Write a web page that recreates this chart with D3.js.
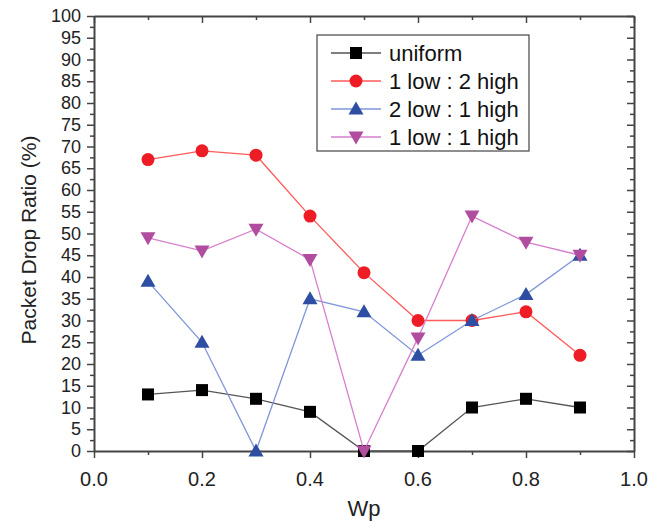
<!DOCTYPE html>
<html>
<head>
<meta charset="utf-8">
<script src="https://cdn.jsdelivr.net/npm/d3@7"></script>
<style>
  body { margin: 0; background: #fff; }
  text { font-family: "Liberation Sans", Arial, sans-serif; }
</style>
</head>
<body>
<div id="chart"></div>
<script>
// data
var wp = [0.1, 0.2, 0.3, 0.4, 0.5, 0.6, 0.7, 0.8, 0.9];
var uniform = [13, 14, 12, 9, 0, 0, 10, 12, 10];
var low1high2 = [67, 69, 68, 54, 41, 30, 30, 32, 22];
var low2high1 = [39, 25, 0, 35, 32, 22, 30, 36, 45];
var low1high1 = [49, 46, 51, 44, 0, 26, 54, 48, 45];
var seriesNames = ["uniform", "1 low : 2 high", "2 low : 1 high", "1 low : 1 high"];
var yTicks = d3.range(0, 101, 5);
var xTicks = [0.0, 0.2, 0.4, 0.6, 0.8, 1.0];

var W = 661, H = 522;
var mLeft = 94, mRight = 634, mTop = 16, mBottom = 451;

var svg = d3.select("#chart").append("svg")
    .attr("width", W)
    .attr("height", H);

var x = d3.scaleLinear().domain([0, 1]).range([mLeft, mRight]);
var y = d3.scaleLinear().domain([0, 100]).range([mBottom, mTop]);

var axisColor = "#444";

// bottom axis (outward ticks)
var gx = svg.append("g").attr("transform", "translate(0," + mBottom + ")");
gx.call(d3.axisBottom(x).tickValues(d3.range(0, 1.01, 0.1)).tickSize(0).tickFormat(""));
gx.selectAll(".tick").append("line")
    .attr("y2", function(d, i) { return i % 2 == 0 ? 7 : 4; })
    .attr("stroke", axisColor).attr("stroke-width", 1.5);
gx.select(".domain").attr("stroke", axisColor).attr("stroke-width", 2);
xTicks.forEach(function(t) {
  svg.append("text")
    .attr("x", x(t)).attr("y", mBottom + 35)
    .attr("text-anchor", "middle")
    .attr("font-size", "20px")
    .attr("fill", "#222")
    .text(t.toFixed(1));
});

// left axis
var gy = svg.append("g").attr("transform", "translate(" + mLeft + ",0)");
gy.call(d3.axisLeft(y).tickValues(d3.range(0, 101, 2.5)).tickSize(0).tickFormat(""));
gy.selectAll(".tick").append("line")
    .attr("x2", function(d, i) { return i % 2 == 0 ? -7 : -4; })
    .attr("stroke", axisColor).attr("stroke-width", 1.5);
gy.select(".domain").attr("stroke", axisColor).attr("stroke-width", 2);
yTicks.forEach(function(t) {
  svg.append("text")
    .attr("x", mLeft - 13).attr("y", y(t) + 6)
    .attr("text-anchor", "end")
    .attr("font-size", "18px")
    .attr("fill", "#222")
    .text(t);
});

// top and right mirror axes (inward ticks)
var gt = svg.append("g").attr("transform", "translate(0," + mTop + ")");
gt.call(d3.axisTop(x).tickValues(d3.range(0, 1.01, 0.1)).tickSize(0).tickFormat(""));
gt.selectAll(".tick").append("line")
    .attr("y2", function(d, i) { return i % 2 == 0 ? 7 : 4; })
    .attr("stroke", axisColor).attr("stroke-width", 1.5);
gt.select(".domain").attr("stroke", axisColor).attr("stroke-width", 2);

var gr = svg.append("g").attr("transform", "translate(" + mRight + ",0)");
gr.call(d3.axisRight(y).tickValues(d3.range(0, 101, 2.5)).tickSize(0).tickFormat(""));
gr.selectAll(".tick").append("line")
    .attr("x2", function(d, i) { return i % 2 == 0 ? -7 : -4; })
    .attr("stroke", axisColor).attr("stroke-width", 1.5);
gr.select(".domain").attr("stroke", axisColor).attr("stroke-width", 2);

// axis titles
svg.append("text")
    .attr("x", x(0.5)).attr("y", 516)
    .attr("text-anchor", "middle")
    .attr("font-size", "22px")
    .attr("fill", "#222")
    .text("Wp");

svg.append("text")
    .attr("transform", "translate(36,240) rotate(-90)")
    .attr("text-anchor", "middle")
    .attr("font-size", "21px")
    .attr("fill", "#222")
    .text("Packet Drop Ratio (%)");

// series
var series = [
  {name: seriesNames[0], values: uniform, line: "#555", fill: "#000", shape: "square"},
  {name: seriesNames[1], values: low1high2, line: "#ff5a5a", fill: "#ee1c24", shape: "circle"},
  {name: seriesNames[2], values: low2high1, line: "#7f97d8", fill: "#2d4ea2", shape: "up"},
  {name: seriesNames[3], values: low1high1, line: "#d77fcc", fill: "#b04d9f", shape: "down"}
];

function marker(g, shape, cx, cy, fill) {
  if (shape == "square") {
    g.append("rect").attr("x", cx - 6).attr("y", cy - 6)
      .attr("width", 12).attr("height", 12).attr("fill", fill);
  } else if (shape == "circle") {
    g.append("circle").attr("cx", cx).attr("cy", cy).attr("r", 6.5).attr("fill", fill);
  } else if (shape == "up") {
    g.append("path").attr("d", "M" + cx + "," + (cy - 7.5) + "L" + (cx + 7.5) + "," + (cy + 5.5) + "L" + (cx - 7.5) + "," + (cy + 5.5) + "Z")
      .attr("fill", fill);
  } else {
    g.append("path").attr("d", "M" + cx + "," + (cy + 7.5) + "L" + (cx + 7.5) + "," + (cy - 5.5) + "L" + (cx - 7.5) + "," + (cy - 5.5) + "Z")
      .attr("fill", fill);
  }
}

var line = d3.line()
    .x(function(d) { return x(d[0]); })
    .y(function(d) { return y(d[1]); });

series.forEach(function(s) {
  var pts = wp.map(function(w, i) { return [w, s.values[i]]; });
  svg.append("path")
    .attr("d", line(pts))
    .attr("fill", "none")
    .attr("stroke", s.line)
    .attr("stroke-width", 1.3);
  var g = svg.append("g");
  pts.forEach(function(p) { marker(g, s.shape, x(p[0]), y(p[1]), s.fill); });
});

// legend
var lg = svg.append("g");
lg.append("rect")
    .attr("x", 317).attr("y", 35)
    .attr("width", 212).attr("height", 116)
    .attr("fill", "#fff")
    .attr("stroke", "#444").attr("stroke-width", 1.2);
series.forEach(function(s, i) {
  var ly = 53 + i * 28;
  lg.append("line")
    .attr("x1", 331).attr("x2", 381).attr("y1", ly).attr("y2", ly)
    .attr("stroke", s.line).attr("stroke-width", 1.3);
  marker(lg, s.shape, 356, ly, s.fill);
  lg.append("text")
    .attr("x", 389).attr("y", ly + 8)
    .attr("font-size", "22px")
    .attr("fill", "#111")
    .text(s.name);
});
</script>
</body>
</html>
